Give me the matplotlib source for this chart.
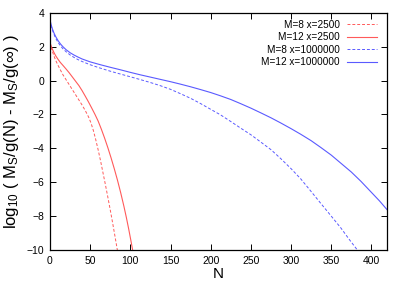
import matplotlib
matplotlib.use("Agg")
import matplotlib.pyplot as plt

plt.rcParams['font.family'] = ['Liberation Sans', 'DejaVu Sans']
plt.rcParams['mathtext.fontset'] = 'custom'
plt.rcParams['mathtext.rm'] = 'Liberation Sans'
plt.rcParams['mathtext.it'] = 'Liberation Sans:italic'

# M=8 x=2500 (red dashed)
n_m8_2500 = [0, 1, 2, 3, 5, 7, 10, 13, 16, 20, 24, 28, 32, 36, 40, 44, 48, 51, 54, 57,
             60, 63, 66, 69, 72, 75, 78, 81, 84]
y_m8_2500 = [2.25, 2.05, 1.88, 1.72, 1.45, 1.2, 0.9, 0.62, 0.35, 0.05, -0.25, -0.55, -0.85,
             -1.15, -1.45, -1.78, -2.15, -2.5, -2.95, -3.5, -4.1, -4.75, -5.45, -6.15, -6.88,
             -7.63, -8.41, -9.22, -10.05]

# M=12 x=2500 (red solid)
n_m12_2500 = [0, 1, 2, 3, 5, 7, 10, 13, 16, 20, 24, 28, 32, 36, 40, 44, 48, 52, 56, 60,
              64, 68, 72, 76, 80, 84, 88, 92, 95, 98, 101, 103]
y_m12_2500 = [2.25, 2.1, 1.97, 1.85, 1.65, 1.47, 1.25, 1.06, 0.9, 0.68, 0.45, 0.2, -0.05,
              -0.3, -0.6, -0.93, -1.27, -1.63, -2.0, -2.4, -2.88, -3.4, -3.96, -4.56, -5.2,
              -5.88, -6.62, -7.42, -8.07, -8.77, -9.52, -10.04]

# M=8 x=1000000 (blue dashed)
n_m8_1e6 = [0, 1, 2, 3, 5, 7, 10, 13, 16, 20, 25, 30, 35, 40, 50, 62, 75, 87, 100, 112,
            125, 137, 150, 162, 175, 187, 200, 212, 225, 237, 250, 262, 275, 287, 300, 312,
            325, 337, 350, 362, 372, 382.5]
y_m8_1e6 = [3.55, 3.32, 3.14, 2.98, 2.72, 2.5, 2.25, 2.05, 1.88, 1.7, 1.51, 1.36, 1.23,
            1.12, 0.93, 0.74, 0.55, 0.39, 0.22, 0.06, -0.12, -0.3, -0.52, -0.77, -1.05,
            -1.35, -1.7, -2.02, -2.42, -2.8, -3.2, -3.62, -4.08, -4.6, -5.2, -5.8, -6.55,
            -7.25, -8.0, -8.7, -9.35, -10.0]

# M=12 x=1000000 (blue solid)
n_m12_1e6 = [0, 1, 2, 3, 5, 7, 10, 13, 16, 20, 25, 30, 35, 40, 50, 62, 75, 87, 100, 112,
             125, 137, 150, 162, 175, 187, 200, 212, 225, 237, 250, 262, 275, 287, 300,
             312, 325, 337, 350, 362, 375, 387, 400, 410, 420]
y_m12_1e6 = [3.6, 3.38, 3.2, 3.05, 2.8, 2.6, 2.36, 2.16, 2.0, 1.82, 1.64, 1.5, 1.38, 1.27,
             1.1, 0.94, 0.78, 0.64, 0.48, 0.34, 0.2, 0.07, -0.07, -0.21, -0.37, -0.53,
             -0.71, -0.9, -1.12, -1.36, -1.63, -1.9, -2.2, -2.5, -2.84, -3.17, -3.55,
             -3.95, -4.4, -4.88, -5.4, -5.95, -6.6, -7.1, -7.65]

x_ticks = [0, 50, 100, 150, 200, 250, 300, 350, 400]
y_ticks = [-10, -8, -6, -4, -2, 0, 2, 4]

red = '#ff5a5a'
blue = '#5a5aff'

fig = plt.figure(figsize=(4.03, 2.83), dpi=100)
ax = fig.add_axes([0.124, 0.1166, 0.8375, 0.8385])

ax.plot(n_m8_2500, y_m8_2500, color=red, lw=0.7, ls=(0, (3, 2)), label='M=8 x=2500')
ax.plot(n_m12_2500, y_m12_2500, color=red, lw=0.8, label='M=12 x=2500')
ax.plot(n_m8_1e6, y_m8_1e6, color=blue, lw=0.7, ls=(0, (3, 2)), label='M=8 x=1000000')
ax.plot(n_m12_1e6, y_m12_1e6, color=blue, lw=0.8, label='M=12 x=1000000')

ax.set_xlim(0, 420)
ax.set_ylim(-10, 4)
ax.set_xticks(x_ticks)
ax.set_yticks(y_ticks)
ax.tick_params(direction='in', top=True, right=True, length=4, width=0.7,
               labelsize=7.5, pad=4)
for s in ax.spines.values():
    s.set_linewidth(0.9)

ax.set_xlabel('N', fontsize=11, labelpad=1)
ax.set_ylabel(r'log$_{\mathrm{10}}$ ( M$_{\mathrm{S}}$/g(N) - M$_{\mathrm{S}}$/g(∞) )',
              fontsize=12, labelpad=4)

ax.legend(loc='upper right', frameon=False, markerfirst=False, fontsize=7.2,
          handlelength=3.0, handletextpad=0.7, labelspacing=0.25,
          borderaxespad=0.3, bbox_to_anchor=(0.99, 1.0))

fig.savefig('out.png', dpi=100)
